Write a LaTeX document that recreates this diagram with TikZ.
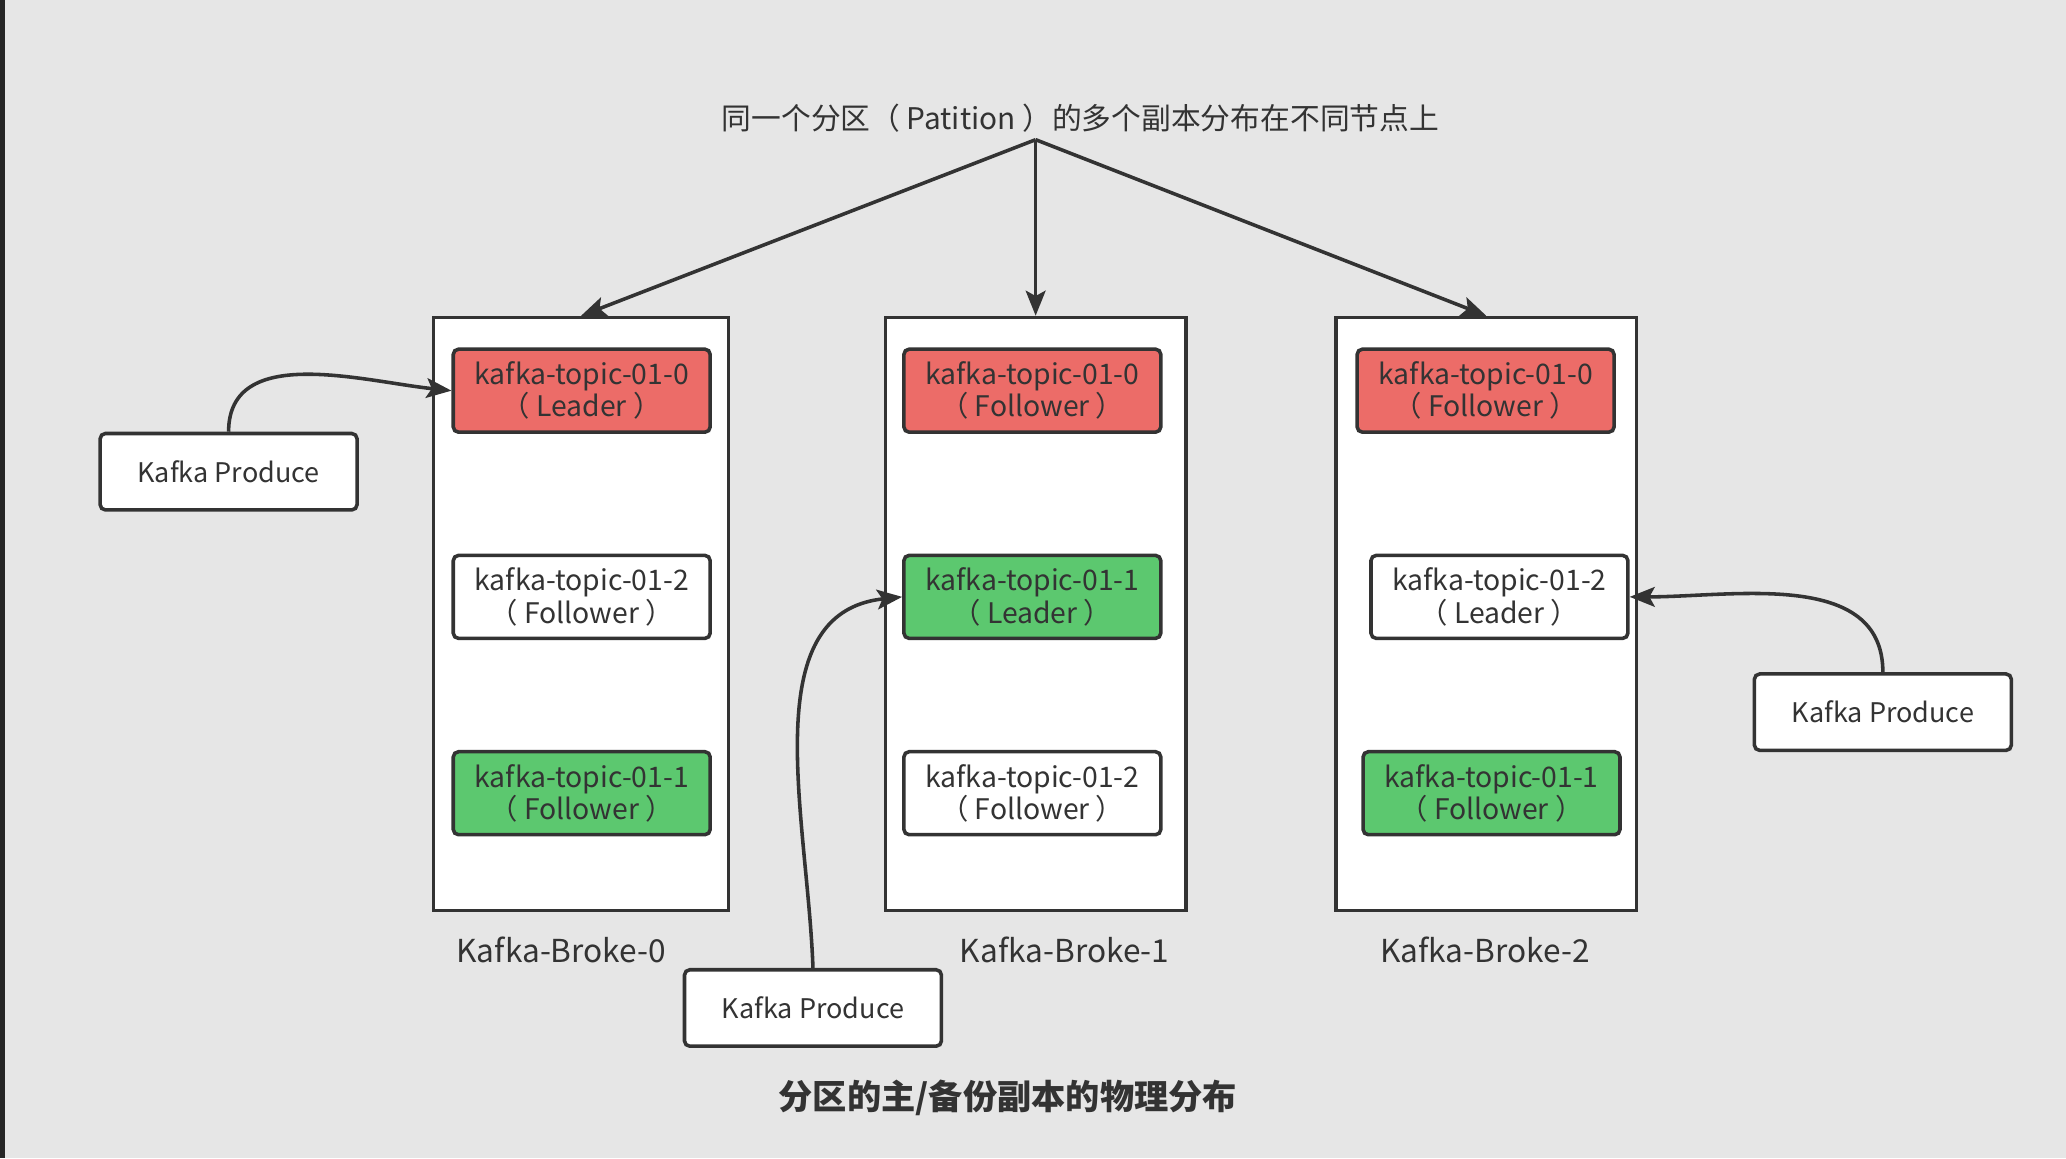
\documentclass[tikz,border=0pt]{standalone}
\usepackage{fontspec}
\setmainfont{Noto Sans CJK SC}
\usetikzlibrary{arrows.meta}
\definecolor{bg}{HTML}{E6E6E6}
\definecolor{ln}{HTML}{333333}
\definecolor{txt}{HTML}{333333}
\definecolor{redf}{HTML}{EC6C68}
\definecolor{greenf}{HTML}{5CC86F}
\newcommand{\lp}{（\hspace{0.22em}}
\newcommand{\rp}{\hspace{0.22em}）}
\tikzset{
  broker/.style={draw=ln, line width=2.7pt, fill=white},
  part/.style={draw=ln, line width=2.7pt, rounded corners=4pt, minimum width=195pt, minimum height=63pt, align=center, font=\fontsize{21.5}{24.5}\selectfont, text=txt, inner sep=0pt},
  redp/.style={part, fill=redf},
  greenp/.style={part, fill=greenf},
  whitep/.style={part, fill=white},
  prod/.style={draw=ln, line width=2.7pt, rounded corners=4pt, fill=white, minimum width=195pt, minimum height=58pt, font=\fontsize{20.5}{24}\selectfont, text=txt, inner sep=0pt},
  lbl/.style={font=\fontsize{24}{26}\selectfont, text=txt, inner sep=0pt},
  conn/.style={draw=ln, line width=2.7pt, -{Stealth[length=19pt,width=15pt,inset=4pt]}}
}
\begin{document}
\begin{tikzpicture}[x=1pt,y=-1pt]
\useasboundingbox (0,0) rectangle (1568,879);
\fill[bg] (0,0) rectangle (1568,879);
\fill[black!85] (0,0) rectangle (3.5,879);
% title
\node[lbl, font=\fontsize{22.6}{24}\selectfont] (title) at (820,90) {同一个分区\lp Patition\rp 的多个副本分布在不同节点上};
\coordinate (src) at (786,106);
% brokers
\node[broker, minimum width=224pt, minimum height=450pt, inner sep=0pt] (b0) at (441,466) {};
\node[broker, minimum width=228pt, minimum height=450pt, inner sep=0pt] (b1) at (786,466) {};
\node[broker, minimum width=228pt, minimum height=450pt, inner sep=0pt] (b2) at (1128,466) {};
% partitions
\node[redp] (p00) at (441.5,296.5) {kafka-topic-01-0\\\lp Leader\rp};
\node[whitep] (p01) at (441.5,453) {kafka-topic-01-2\\\lp Follower\rp};
\node[greenp] (p02) at (441.5,602) {kafka-topic-01-1\\\lp Follower\rp};
\node[redp] (p10) at (783.5,296.5) {kafka-topic-01-0\\\lp Follower\rp};
\node[greenp] (p11) at (783.5,453) {kafka-topic-01-1\\\lp Leader\rp};
\node[whitep] (p12) at (783.5,602) {kafka-topic-01-2\\\lp Follower\rp};
\node[redp] (p20) at (1127.5,296.5) {kafka-topic-01-0\\\lp Follower\rp};
\node[whitep] (p21) at (1138,453) {kafka-topic-01-2\\\lp Leader\rp};
\node[greenp] (p22) at (1132,602) {kafka-topic-01-1\\\lp Follower\rp};
% broker labels
\node[lbl] (l0) at (426,721) {Kafka-Broke-0};
\node[lbl] (l1) at (808,721) {Kafka-Broke-1};
\node[lbl] (l2) at (1127,721) {Kafka-Broke-2};
% producers
\node[prod] (pl) at (173.5,358) {Kafka Produce};
\node[prod] (pb) at (617,765) {Kafka Produce};
\node[prod] (pr) at (1429,540.5) {Kafka Produce};
% bottom caption
\node[lbl, font=\bfseries\fontsize{26}{28}\selectfont] (cap) at (765,833) {分区的主/备份副本的物理分布};
% connectors
\draw[conn] (src) -- (b0.north);
\draw[conn] (src) -- (b1.north);
\draw[conn] (src) -- (b2.north);
\draw[conn] (pl.north) to[out=90,in=174] (p00.west);
\draw[conn] (pb.north) to[out=92,in=186] (p11.west);
\draw[conn] (pr.north) to[out=90,in=0] (p21.east);
\end{tikzpicture}
\end{document}
